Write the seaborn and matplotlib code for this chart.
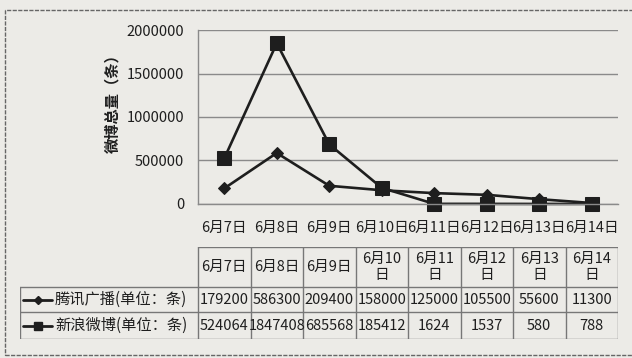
import matplotlib
matplotlib.use("Agg")
import matplotlib.pyplot as plt
import seaborn as sns
import pandas as pd
from matplotlib.lines import Line2D
from matplotlib.patches import Rectangle

dates = ["6月7日", "6月8日", "6月9日", "6月10日", "6月11日", "6月12日", "6月13日", "6月14日"]
header_labels = ["6月7日", "6月8日", "6月9日", "6月10\n日", "6月11\n日", "6月12\n日", "6月13\n日", "6月14\n日"]
tencent = [179200, 586300, 209400, 158000, 125000, 105500, 55600, 11300]
sina = [524064, 1847408, 685568, 185412, 1624, 1537, 580, 788]
series_names = ["腾讯广播(单位：条)", "新浪微博(单位：条)"]
yticks = [0, 500000, 1000000, 1500000, 2000000]

sns.set_theme(style="white")
plt.rcParams['font.family'] = ['Noto Sans CJK SC', 'DejaVu Sans']

BG = "#ecebe7"
INK = "#1e1e1e"
GRID = "#8a8a8a"

W, H = 632, 358
fig = plt.figure(figsize=(W / 100, H / 100), dpi=100)
fig.patch.set_facecolor(BG)

# outer frame
fig.add_artist(Rectangle((5 / W, 1 - 355 / H), 640 / W, 345 / H, transform=fig.transFigure,
                         fill=False, edgecolor="#666666", lw=1.0, linestyle=(0, (3, 1))))

pl, pr, pt, pb = 198, 618, 30, 204
ax = fig.add_axes([pl / W, 1 - pb / H, (pr - pl) / W, (pb - pt) / H])
ax.set_facecolor(BG)

df = pd.DataFrame({"date": dates * 2,
                   "value": tencent + sina,
                   "series": [series_names[0]] * len(dates) + [series_names[1]] * len(dates)})

sns.lineplot(data=df[df.series == series_names[0]], x="date", y="value", ax=ax,
             color=INK, lw=1.9, marker="D", markersize=6, markeredgecolor=INK, sort=False,
             clip_on=False)
sns.lineplot(data=df[df.series == series_names[1]], x="date", y="value", ax=ax,
             color=INK, lw=1.9, marker="s", markersize=10, markeredgecolor=INK, sort=False,
             clip_on=False)

ax.set_xlim(-0.5, len(dates) - 0.5)
ax.set_ylim(0, 2000000)
ax.set_yticks(yticks)
ax.set_yticklabels([str(v) for v in yticks])
ax.yaxis.grid(True, color=GRID, lw=1.0)
ax.set_axisbelow(True)
for s in ["top", "right"]:
    ax.spines[s].set_visible(False)
for s in ["left", "bottom"]:
    ax.spines[s].set_color(GRID)
    ax.spines[s].set_linewidth(1.0)
ax.tick_params(axis="both", length=0, labelsize=10.5, colors=INK)
ax.tick_params(axis="y", pad=10)
ax.tick_params(axis="x", pad=12)
ax.set_xlabel("")
ax.set_ylabel("微博总量（条）", fontsize=11, fontweight="bold", color=INK)
ax.yaxis.set_label_coords(-(pl - 120) / (pr - pl), 0.6)

# data table
tl, tr, tt, tb = 20, pr, 247, 339
hdr_b, r1_b = 287, 312
ax_t = fig.add_axes([tl / W, 1 - tb / H, (tr - tl) / W, (tb - tt) / H])
ax_t.set_xlim(tl, tr)
ax_t.set_ylim(tb, tt)
ax_t.axis("off")
ax_t.set_facecolor("none")

colw = (pr - pl) / len(dates)
lc = "#777777"
lw = 1.0
ax_t.plot([pl, tr], [tt, tt], color=lc, lw=lw)
for y in [hdr_b, r1_b, tb]:
    ax_t.plot([tl, tr], [y, y], color=lc, lw=lw)
ax_t.plot([tl, tl], [hdr_b, tb], color=lc, lw=lw)
for i in range(len(dates) + 1):
    x = pl + i * colw
    ax_t.plot([x, x], [tt, tb], color=lc, lw=lw)

fs = 10.5
for i, lab in enumerate(header_labels):
    cx = pl + (i + 0.5) * colw
    ax_t.text(cx, (tt + hdr_b) / 2, lab, ha="center", va="center", fontsize=fs,
              color=INK, linespacing=1.25)
rows = [(tencent, "D", 4, (hdr_b + r1_b) / 2), (sina, "s", 6, (r1_b + tb) / 2)]
for (vals, mk, ms, cy), name in zip(rows, series_names):
    ax_t.add_line(Line2D([23, 52], [cy, cy], color=INK, lw=2.0))
    ax_t.add_line(Line2D([37.5], [cy], color=INK, marker=mk, markersize=ms, lw=0))
    ax_t.text(55, cy, name, ha="left", va="center", fontsize=11, color=INK)
    for i, v in enumerate(vals):
        cx = pl + (i + 0.5) * colw
        ax_t.text(cx, cy, str(v), ha="center", va="center", fontsize=fs, color=INK)

fig.savefig("out.png", dpi=100, facecolor=BG)
